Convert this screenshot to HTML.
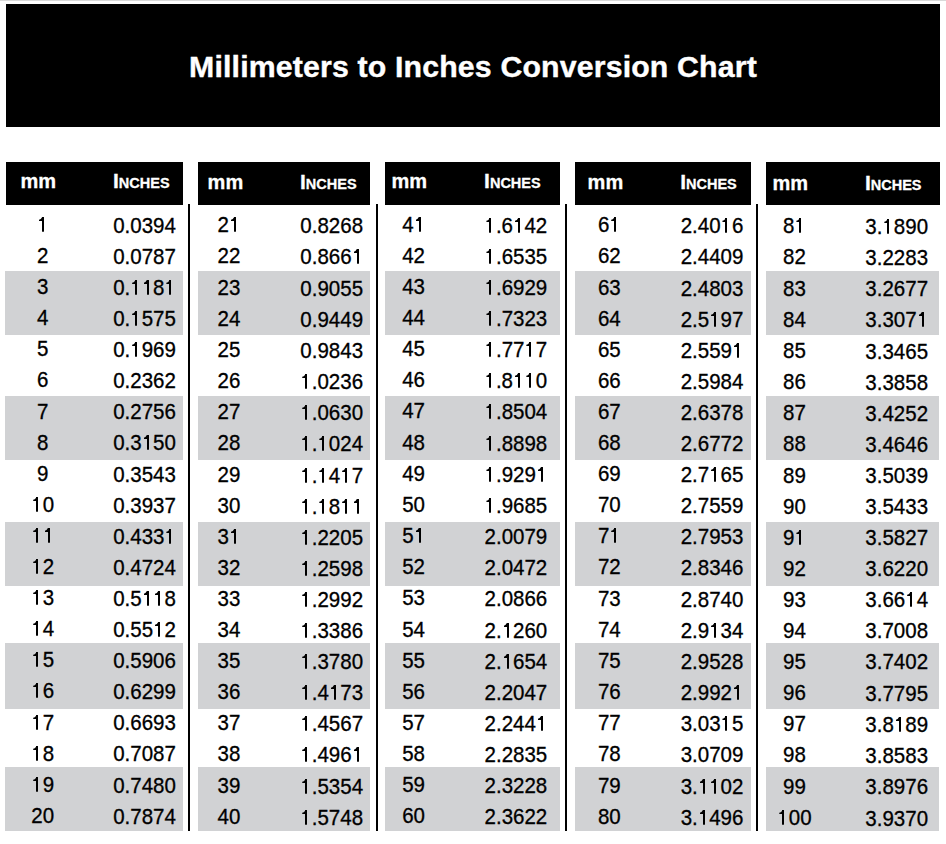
<!DOCTYPE html>
<html><head><meta charset="utf-8"><title>Millimeters to Inches Conversion Chart</title><style>
html,body{margin:0;padding:0;background:#fff;}
body{width:946px;height:844px;position:relative;overflow:hidden;font-family:"Liberation Sans",sans-serif;}
.r{position:absolute;}
.t{position:absolute;text-align:center;white-space:nowrap;font-weight:normal;}
.b{font-weight:bold;}
.o{position:relative;color:transparent;-webkit-text-stroke-color:transparent;}
.o::before{content:'';position:absolute;left:0.24em;width:0.098em;bottom:4px;height:0.70em;background:#000;}
.o::after{content:'';position:absolute;left:0.093em;width:0.19em;bottom:calc(4px + 0.50em);height:0.20em;background:#000;clip-path:polygon(0 74%,0 100%,100% 100%,100% 0,88% 0,72% 28%,48% 52%,22% 66%);}
</style></head><body>
<div style="position:absolute;left:0;top:0;width:946px;height:1px;background:#d9d9d9"></div>
<div style="position:absolute;left:6px;top:4px;width:934px;height:123px;background:#000"></div>
<div class="t b" style="left:23.00px;top:51.99px;width:900px;font-size:30.25px;line-height:30.25px;color:#fff;letter-spacing:0.17px;-webkit-text-stroke:0.4px #fff">Millimeters to Inches Conversion Chart</div>
<div class="r" style="left:5px;top:271px;width:178px;height:64px;background:#d1d2d4"></div>
<div class="r" style="left:5px;top:396px;width:178px;height:63.5px;background:#d1d2d4"></div>
<div class="r" style="left:5px;top:522px;width:178px;height:63.5px;background:#d1d2d4"></div>
<div class="r" style="left:5px;top:643px;width:178px;height:65.5px;background:#d1d2d4"></div>
<div class="r" style="left:5px;top:767px;width:178px;height:64px;background:#d1d2d4"></div>
<div class="r" style="left:6px;top:162px;width:177px;height:43px;background:#000"></div>
<div class="r" style="left:198px;top:271px;width:172px;height:64px;background:#d1d2d4"></div>
<div class="r" style="left:198px;top:396px;width:172px;height:63.5px;background:#d1d2d4"></div>
<div class="r" style="left:198px;top:522px;width:172px;height:63.5px;background:#d1d2d4"></div>
<div class="r" style="left:198px;top:643px;width:172px;height:65.5px;background:#d1d2d4"></div>
<div class="r" style="left:198px;top:767px;width:172px;height:64px;background:#d1d2d4"></div>
<div class="r" style="left:198px;top:162px;width:172px;height:43px;background:#000"></div>
<div class="r" style="left:385px;top:271px;width:175px;height:64px;background:#d1d2d4"></div>
<div class="r" style="left:385px;top:396px;width:175px;height:63.5px;background:#d1d2d4"></div>
<div class="r" style="left:385px;top:522px;width:175px;height:63.5px;background:#d1d2d4"></div>
<div class="r" style="left:385px;top:643px;width:175px;height:65.5px;background:#d1d2d4"></div>
<div class="r" style="left:385px;top:767px;width:175px;height:64px;background:#d1d2d4"></div>
<div class="r" style="left:385px;top:162px;width:175px;height:43px;background:#000"></div>
<div class="r" style="left:575px;top:271px;width:176px;height:64px;background:#d1d2d4"></div>
<div class="r" style="left:575px;top:396px;width:176px;height:63.5px;background:#d1d2d4"></div>
<div class="r" style="left:575px;top:522px;width:176px;height:63.5px;background:#d1d2d4"></div>
<div class="r" style="left:575px;top:643px;width:176px;height:65.5px;background:#d1d2d4"></div>
<div class="r" style="left:575px;top:767px;width:176px;height:64px;background:#d1d2d4"></div>
<div class="r" style="left:575px;top:162px;width:176px;height:43px;background:#000"></div>
<div class="r" style="left:766px;top:271px;width:173px;height:64px;background:#d1d2d4"></div>
<div class="r" style="left:766px;top:396px;width:173px;height:63.5px;background:#d1d2d4"></div>
<div class="r" style="left:766px;top:522px;width:173px;height:63.5px;background:#d1d2d4"></div>
<div class="r" style="left:766px;top:643px;width:173px;height:65.5px;background:#d1d2d4"></div>
<div class="r" style="left:766px;top:767px;width:173px;height:64px;background:#d1d2d4"></div>
<div class="r" style="left:766px;top:162px;width:174px;height:43px;background:#000"></div>
<div class="r" style="left:188px;top:204px;width:2px;height:627px;background:#000"></div>
<div class="r" style="left:376px;top:204px;width:2px;height:627px;background:#000"></div>
<div class="r" style="left:565px;top:204px;width:2px;height:627px;background:#000"></div>
<div class="r" style="left:756px;top:204px;width:2px;height:627px;background:#000"></div>
<div class="t b" style="left:-21.80px;top:170.77px;width:120px;font-size:20px;line-height:20px;color:#fff;-webkit-text-stroke:0.3px #fff">mm</div>
<div class="t b" style="left:81.30px;top:170.77px;width:120px;font-size:20px;line-height:20px;color:#fff;-webkit-text-stroke:0.3px #fff"><span style="font-size:21px">I</span><span style="font-size:14.5px">NCHES</span></div>
<div class="t" style="left:-17.30px;top:214.15px;width:120px;font-size:20.5px;line-height:20.5px;color:#000;transform:scaleY(1.05);transform-origin:50% 2.68px;-webkit-text-stroke:0.3px #000"><span class="o">1</span></div>
<div class="t" style="left:84.50px;top:214.75px;width:120px;font-size:20.5px;line-height:20.5px;color:#000;transform:scaleY(1.05);transform-origin:50% 2.68px;-webkit-text-stroke:0.3px #000">0.0394</div>
<div class="t" style="left:-17.30px;top:245.13px;width:120px;font-size:20.5px;line-height:20.5px;color:#000;transform:scaleY(1.05);transform-origin:50% 2.68px;-webkit-text-stroke:0.3px #000">2</div>
<div class="t" style="left:84.50px;top:245.73px;width:120px;font-size:20.5px;line-height:20.5px;color:#000;transform:scaleY(1.05);transform-origin:50% 2.68px;-webkit-text-stroke:0.3px #000">0.0787</div>
<div class="t" style="left:-17.30px;top:276.12px;width:120px;font-size:20.5px;line-height:20.5px;color:#000;transform:scaleY(1.05);transform-origin:50% 2.68px;-webkit-text-stroke:0.3px #000">3</div>
<div class="t" style="left:84.50px;top:276.72px;width:120px;font-size:20.5px;line-height:20.5px;color:#000;transform:scaleY(1.05);transform-origin:50% 2.68px;-webkit-text-stroke:0.3px #000">0.<span class="o">1</span><span class="o">1</span>8<span class="o">1</span></div>
<div class="t" style="left:-17.30px;top:307.11px;width:120px;font-size:20.5px;line-height:20.5px;color:#000;transform:scaleY(1.05);transform-origin:50% 2.68px;-webkit-text-stroke:0.3px #000">4</div>
<div class="t" style="left:84.50px;top:307.71px;width:120px;font-size:20.5px;line-height:20.5px;color:#000;transform:scaleY(1.05);transform-origin:50% 2.68px;-webkit-text-stroke:0.3px #000">0.<span class="o">1</span>575</div>
<div class="t" style="left:-17.30px;top:338.10px;width:120px;font-size:20.5px;line-height:20.5px;color:#000;transform:scaleY(1.05);transform-origin:50% 2.68px;-webkit-text-stroke:0.3px #000">5</div>
<div class="t" style="left:84.50px;top:338.70px;width:120px;font-size:20.5px;line-height:20.5px;color:#000;transform:scaleY(1.05);transform-origin:50% 2.68px;-webkit-text-stroke:0.3px #000">0.<span class="o">1</span>969</div>
<div class="t" style="left:-17.30px;top:369.31px;width:120px;font-size:20.5px;line-height:20.5px;color:#000;transform:scaleY(1.05);transform-origin:50% 2.68px;-webkit-text-stroke:0.3px #000">6</div>
<div class="t" style="left:84.50px;top:369.91px;width:120px;font-size:20.5px;line-height:20.5px;color:#000;transform:scaleY(1.05);transform-origin:50% 2.68px;-webkit-text-stroke:0.3px #000">0.2362</div>
<div class="t" style="left:-17.30px;top:400.52px;width:120px;font-size:20.5px;line-height:20.5px;color:#000;transform:scaleY(1.05);transform-origin:50% 2.68px;-webkit-text-stroke:0.3px #000">7</div>
<div class="t" style="left:84.50px;top:401.12px;width:120px;font-size:20.5px;line-height:20.5px;color:#000;transform:scaleY(1.05);transform-origin:50% 2.68px;-webkit-text-stroke:0.3px #000">0.2756</div>
<div class="t" style="left:-17.30px;top:431.73px;width:120px;font-size:20.5px;line-height:20.5px;color:#000;transform:scaleY(1.05);transform-origin:50% 2.68px;-webkit-text-stroke:0.3px #000">8</div>
<div class="t" style="left:84.50px;top:432.33px;width:120px;font-size:20.5px;line-height:20.5px;color:#000;transform:scaleY(1.05);transform-origin:50% 2.68px;-webkit-text-stroke:0.3px #000">0.3<span class="o">1</span>50</div>
<div class="t" style="left:-17.30px;top:462.94px;width:120px;font-size:20.5px;line-height:20.5px;color:#000;transform:scaleY(1.05);transform-origin:50% 2.68px;-webkit-text-stroke:0.3px #000">9</div>
<div class="t" style="left:84.50px;top:463.54px;width:120px;font-size:20.5px;line-height:20.5px;color:#000;transform:scaleY(1.05);transform-origin:50% 2.68px;-webkit-text-stroke:0.3px #000">0.3543</div>
<div class="t" style="left:-17.30px;top:494.15px;width:120px;font-size:20.5px;line-height:20.5px;color:#000;transform:scaleY(1.05);transform-origin:50% 2.68px;-webkit-text-stroke:0.3px #000"><span class="o">1</span>0</div>
<div class="t" style="left:84.50px;top:494.75px;width:120px;font-size:20.5px;line-height:20.5px;color:#000;transform:scaleY(1.05);transform-origin:50% 2.68px;-webkit-text-stroke:0.3px #000">0.3937</div>
<div class="t" style="left:-17.30px;top:525.15px;width:120px;font-size:20.5px;line-height:20.5px;color:#000;transform:scaleY(1.05);transform-origin:50% 2.68px;-webkit-text-stroke:0.3px #000"><span class="o">1</span><span class="o">1</span></div>
<div class="t" style="left:84.50px;top:525.75px;width:120px;font-size:20.5px;line-height:20.5px;color:#000;transform:scaleY(1.05);transform-origin:50% 2.68px;-webkit-text-stroke:0.3px #000">0.433<span class="o">1</span></div>
<div class="t" style="left:-17.30px;top:556.15px;width:120px;font-size:20.5px;line-height:20.5px;color:#000;transform:scaleY(1.05);transform-origin:50% 2.68px;-webkit-text-stroke:0.3px #000"><span class="o">1</span>2</div>
<div class="t" style="left:84.50px;top:556.75px;width:120px;font-size:20.5px;line-height:20.5px;color:#000;transform:scaleY(1.05);transform-origin:50% 2.68px;-webkit-text-stroke:0.3px #000">0.4724</div>
<div class="t" style="left:-17.30px;top:587.15px;width:120px;font-size:20.5px;line-height:20.5px;color:#000;transform:scaleY(1.05);transform-origin:50% 2.68px;-webkit-text-stroke:0.3px #000"><span class="o">1</span>3</div>
<div class="t" style="left:84.50px;top:587.75px;width:120px;font-size:20.5px;line-height:20.5px;color:#000;transform:scaleY(1.05);transform-origin:50% 2.68px;-webkit-text-stroke:0.3px #000">0.5<span class="o">1</span><span class="o">1</span>8</div>
<div class="t" style="left:-17.30px;top:618.15px;width:120px;font-size:20.5px;line-height:20.5px;color:#000;transform:scaleY(1.05);transform-origin:50% 2.68px;-webkit-text-stroke:0.3px #000"><span class="o">1</span>4</div>
<div class="t" style="left:84.50px;top:618.75px;width:120px;font-size:20.5px;line-height:20.5px;color:#000;transform:scaleY(1.05);transform-origin:50% 2.68px;-webkit-text-stroke:0.3px #000">0.55<span class="o">1</span>2</div>
<div class="t" style="left:-17.30px;top:649.15px;width:120px;font-size:20.5px;line-height:20.5px;color:#000;transform:scaleY(1.05);transform-origin:50% 2.68px;-webkit-text-stroke:0.3px #000"><span class="o">1</span>5</div>
<div class="t" style="left:84.50px;top:649.75px;width:120px;font-size:20.5px;line-height:20.5px;color:#000;transform:scaleY(1.05);transform-origin:50% 2.68px;-webkit-text-stroke:0.3px #000">0.5906</div>
<div class="t" style="left:-17.30px;top:680.36px;width:120px;font-size:20.5px;line-height:20.5px;color:#000;transform:scaleY(1.05);transform-origin:50% 2.68px;-webkit-text-stroke:0.3px #000"><span class="o">1</span>6</div>
<div class="t" style="left:84.50px;top:680.96px;width:120px;font-size:20.5px;line-height:20.5px;color:#000;transform:scaleY(1.05);transform-origin:50% 2.68px;-webkit-text-stroke:0.3px #000">0.6299</div>
<div class="t" style="left:-17.30px;top:711.57px;width:120px;font-size:20.5px;line-height:20.5px;color:#000;transform:scaleY(1.05);transform-origin:50% 2.68px;-webkit-text-stroke:0.3px #000"><span class="o">1</span>7</div>
<div class="t" style="left:84.50px;top:712.17px;width:120px;font-size:20.5px;line-height:20.5px;color:#000;transform:scaleY(1.05);transform-origin:50% 2.68px;-webkit-text-stroke:0.3px #000">0.6693</div>
<div class="t" style="left:-17.30px;top:742.78px;width:120px;font-size:20.5px;line-height:20.5px;color:#000;transform:scaleY(1.05);transform-origin:50% 2.68px;-webkit-text-stroke:0.3px #000"><span class="o">1</span>8</div>
<div class="t" style="left:84.50px;top:743.38px;width:120px;font-size:20.5px;line-height:20.5px;color:#000;transform:scaleY(1.05);transform-origin:50% 2.68px;-webkit-text-stroke:0.3px #000">0.7087</div>
<div class="t" style="left:-17.30px;top:773.99px;width:120px;font-size:20.5px;line-height:20.5px;color:#000;transform:scaleY(1.05);transform-origin:50% 2.68px;-webkit-text-stroke:0.3px #000"><span class="o">1</span>9</div>
<div class="t" style="left:84.50px;top:774.59px;width:120px;font-size:20.5px;line-height:20.5px;color:#000;transform:scaleY(1.05);transform-origin:50% 2.68px;-webkit-text-stroke:0.3px #000">0.7480</div>
<div class="t" style="left:-17.30px;top:805.20px;width:120px;font-size:20.5px;line-height:20.5px;color:#000;transform:scaleY(1.05);transform-origin:50% 2.68px;-webkit-text-stroke:0.3px #000">20</div>
<div class="t" style="left:84.50px;top:805.80px;width:120px;font-size:20.5px;line-height:20.5px;color:#000;transform:scaleY(1.05);transform-origin:50% 2.68px;-webkit-text-stroke:0.3px #000">0.7874</div>
<div class="t b" style="left:165.40px;top:171.57px;width:120px;font-size:20px;line-height:20px;color:#fff;-webkit-text-stroke:0.3px #fff">mm</div>
<div class="t b" style="left:268.30px;top:171.57px;width:120px;font-size:20px;line-height:20px;color:#fff;-webkit-text-stroke:0.3px #fff"><span style="font-size:21px">I</span><span style="font-size:14.5px">NCHES</span></div>
<div class="t" style="left:169.00px;top:214.00px;width:120px;font-size:20.5px;line-height:20.5px;color:#000;transform:scaleY(1.05);transform-origin:50% 2.68px;-webkit-text-stroke:0.3px #000">2<span class="o">1</span></div>
<div class="t" style="left:271.70px;top:215.00px;width:120px;font-size:20.5px;line-height:20.5px;color:#000;transform:scaleY(1.05);transform-origin:50% 2.68px;-webkit-text-stroke:0.3px #000">0.8268</div>
<div class="t" style="left:169.00px;top:245.25px;width:120px;font-size:20.5px;line-height:20.5px;color:#000;transform:scaleY(1.05);transform-origin:50% 2.68px;-webkit-text-stroke:0.3px #000">22</div>
<div class="t" style="left:271.70px;top:246.25px;width:120px;font-size:20.5px;line-height:20.5px;color:#000;transform:scaleY(1.05);transform-origin:50% 2.68px;-webkit-text-stroke:0.3px #000">0.866<span class="o">1</span></div>
<div class="t" style="left:169.00px;top:276.50px;width:120px;font-size:20.5px;line-height:20.5px;color:#000;transform:scaleY(1.05);transform-origin:50% 2.68px;-webkit-text-stroke:0.3px #000">23</div>
<div class="t" style="left:271.70px;top:277.50px;width:120px;font-size:20.5px;line-height:20.5px;color:#000;transform:scaleY(1.05);transform-origin:50% 2.68px;-webkit-text-stroke:0.3px #000">0.9055</div>
<div class="t" style="left:169.00px;top:307.75px;width:120px;font-size:20.5px;line-height:20.5px;color:#000;transform:scaleY(1.05);transform-origin:50% 2.68px;-webkit-text-stroke:0.3px #000">24</div>
<div class="t" style="left:271.70px;top:308.75px;width:120px;font-size:20.5px;line-height:20.5px;color:#000;transform:scaleY(1.05);transform-origin:50% 2.68px;-webkit-text-stroke:0.3px #000">0.9449</div>
<div class="t" style="left:169.00px;top:339.00px;width:120px;font-size:20.5px;line-height:20.5px;color:#000;transform:scaleY(1.05);transform-origin:50% 2.68px;-webkit-text-stroke:0.3px #000">25</div>
<div class="t" style="left:271.70px;top:340.00px;width:120px;font-size:20.5px;line-height:20.5px;color:#000;transform:scaleY(1.05);transform-origin:50% 2.68px;-webkit-text-stroke:0.3px #000">0.9843</div>
<div class="t" style="left:169.00px;top:370.16px;width:120px;font-size:20.5px;line-height:20.5px;color:#000;transform:scaleY(1.05);transform-origin:50% 2.68px;-webkit-text-stroke:0.3px #000">26</div>
<div class="t" style="left:271.70px;top:371.16px;width:120px;font-size:20.5px;line-height:20.5px;color:#000;transform:scaleY(1.05);transform-origin:50% 2.68px;-webkit-text-stroke:0.3px #000"><span class="o">1</span>.0236</div>
<div class="t" style="left:169.00px;top:401.32px;width:120px;font-size:20.5px;line-height:20.5px;color:#000;transform:scaleY(1.05);transform-origin:50% 2.68px;-webkit-text-stroke:0.3px #000">27</div>
<div class="t" style="left:271.70px;top:402.32px;width:120px;font-size:20.5px;line-height:20.5px;color:#000;transform:scaleY(1.05);transform-origin:50% 2.68px;-webkit-text-stroke:0.3px #000"><span class="o">1</span>.0630</div>
<div class="t" style="left:169.00px;top:432.48px;width:120px;font-size:20.5px;line-height:20.5px;color:#000;transform:scaleY(1.05);transform-origin:50% 2.68px;-webkit-text-stroke:0.3px #000">28</div>
<div class="t" style="left:271.70px;top:433.48px;width:120px;font-size:20.5px;line-height:20.5px;color:#000;transform:scaleY(1.05);transform-origin:50% 2.68px;-webkit-text-stroke:0.3px #000"><span class="o">1</span>.<span class="o">1</span>024</div>
<div class="t" style="left:169.00px;top:463.64px;width:120px;font-size:20.5px;line-height:20.5px;color:#000;transform:scaleY(1.05);transform-origin:50% 2.68px;-webkit-text-stroke:0.3px #000">29</div>
<div class="t" style="left:271.70px;top:464.64px;width:120px;font-size:20.5px;line-height:20.5px;color:#000;transform:scaleY(1.05);transform-origin:50% 2.68px;-webkit-text-stroke:0.3px #000"><span class="o">1</span>.<span class="o">1</span>4<span class="o">1</span>7</div>
<div class="t" style="left:169.00px;top:494.80px;width:120px;font-size:20.5px;line-height:20.5px;color:#000;transform:scaleY(1.05);transform-origin:50% 2.68px;-webkit-text-stroke:0.3px #000">30</div>
<div class="t" style="left:271.70px;top:495.80px;width:120px;font-size:20.5px;line-height:20.5px;color:#000;transform:scaleY(1.05);transform-origin:50% 2.68px;-webkit-text-stroke:0.3px #000"><span class="o">1</span>.<span class="o">1</span>8<span class="o">1</span><span class="o">1</span></div>
<div class="t" style="left:169.00px;top:525.80px;width:120px;font-size:20.5px;line-height:20.5px;color:#000;transform:scaleY(1.05);transform-origin:50% 2.68px;-webkit-text-stroke:0.3px #000">3<span class="o">1</span></div>
<div class="t" style="left:271.70px;top:526.80px;width:120px;font-size:20.5px;line-height:20.5px;color:#000;transform:scaleY(1.05);transform-origin:50% 2.68px;-webkit-text-stroke:0.3px #000"><span class="o">1</span>.2205</div>
<div class="t" style="left:169.00px;top:556.80px;width:120px;font-size:20.5px;line-height:20.5px;color:#000;transform:scaleY(1.05);transform-origin:50% 2.68px;-webkit-text-stroke:0.3px #000">32</div>
<div class="t" style="left:271.70px;top:557.80px;width:120px;font-size:20.5px;line-height:20.5px;color:#000;transform:scaleY(1.05);transform-origin:50% 2.68px;-webkit-text-stroke:0.3px #000"><span class="o">1</span>.2598</div>
<div class="t" style="left:169.00px;top:587.80px;width:120px;font-size:20.5px;line-height:20.5px;color:#000;transform:scaleY(1.05);transform-origin:50% 2.68px;-webkit-text-stroke:0.3px #000">33</div>
<div class="t" style="left:271.70px;top:588.80px;width:120px;font-size:20.5px;line-height:20.5px;color:#000;transform:scaleY(1.05);transform-origin:50% 2.68px;-webkit-text-stroke:0.3px #000"><span class="o">1</span>.2992</div>
<div class="t" style="left:169.00px;top:618.80px;width:120px;font-size:20.5px;line-height:20.5px;color:#000;transform:scaleY(1.05);transform-origin:50% 2.68px;-webkit-text-stroke:0.3px #000">34</div>
<div class="t" style="left:271.70px;top:619.80px;width:120px;font-size:20.5px;line-height:20.5px;color:#000;transform:scaleY(1.05);transform-origin:50% 2.68px;-webkit-text-stroke:0.3px #000"><span class="o">1</span>.3386</div>
<div class="t" style="left:169.00px;top:649.80px;width:120px;font-size:20.5px;line-height:20.5px;color:#000;transform:scaleY(1.05);transform-origin:50% 2.68px;-webkit-text-stroke:0.3px #000">35</div>
<div class="t" style="left:271.70px;top:650.80px;width:120px;font-size:20.5px;line-height:20.5px;color:#000;transform:scaleY(1.05);transform-origin:50% 2.68px;-webkit-text-stroke:0.3px #000"><span class="o">1</span>.3780</div>
<div class="t" style="left:169.00px;top:681.02px;width:120px;font-size:20.5px;line-height:20.5px;color:#000;transform:scaleY(1.05);transform-origin:50% 2.68px;-webkit-text-stroke:0.3px #000">36</div>
<div class="t" style="left:271.70px;top:682.02px;width:120px;font-size:20.5px;line-height:20.5px;color:#000;transform:scaleY(1.05);transform-origin:50% 2.68px;-webkit-text-stroke:0.3px #000"><span class="o">1</span>.4<span class="o">1</span>73</div>
<div class="t" style="left:169.00px;top:712.24px;width:120px;font-size:20.5px;line-height:20.5px;color:#000;transform:scaleY(1.05);transform-origin:50% 2.68px;-webkit-text-stroke:0.3px #000">37</div>
<div class="t" style="left:271.70px;top:713.24px;width:120px;font-size:20.5px;line-height:20.5px;color:#000;transform:scaleY(1.05);transform-origin:50% 2.68px;-webkit-text-stroke:0.3px #000"><span class="o">1</span>.4567</div>
<div class="t" style="left:169.00px;top:743.46px;width:120px;font-size:20.5px;line-height:20.5px;color:#000;transform:scaleY(1.05);transform-origin:50% 2.68px;-webkit-text-stroke:0.3px #000">38</div>
<div class="t" style="left:271.70px;top:744.46px;width:120px;font-size:20.5px;line-height:20.5px;color:#000;transform:scaleY(1.05);transform-origin:50% 2.68px;-webkit-text-stroke:0.3px #000"><span class="o">1</span>.496<span class="o">1</span></div>
<div class="t" style="left:169.00px;top:774.68px;width:120px;font-size:20.5px;line-height:20.5px;color:#000;transform:scaleY(1.05);transform-origin:50% 2.68px;-webkit-text-stroke:0.3px #000">39</div>
<div class="t" style="left:271.70px;top:775.68px;width:120px;font-size:20.5px;line-height:20.5px;color:#000;transform:scaleY(1.05);transform-origin:50% 2.68px;-webkit-text-stroke:0.3px #000"><span class="o">1</span>.5354</div>
<div class="t" style="left:169.00px;top:805.90px;width:120px;font-size:20.5px;line-height:20.5px;color:#000;transform:scaleY(1.05);transform-origin:50% 2.68px;-webkit-text-stroke:0.3px #000">40</div>
<div class="t" style="left:271.70px;top:806.90px;width:120px;font-size:20.5px;line-height:20.5px;color:#000;transform:scaleY(1.05);transform-origin:50% 2.68px;-webkit-text-stroke:0.3px #000"><span class="o">1</span>.5748</div>
<div class="t b" style="left:349.30px;top:170.57px;width:120px;font-size:20px;line-height:20px;color:#fff;-webkit-text-stroke:0.3px #fff">mm</div>
<div class="t b" style="left:452.40px;top:170.57px;width:120px;font-size:20px;line-height:20px;color:#fff;-webkit-text-stroke:0.3px #fff"><span style="font-size:21px">I</span><span style="font-size:14.5px">NCHES</span></div>
<div class="t" style="left:353.60px;top:214.20px;width:120px;font-size:20.5px;line-height:20.5px;color:#000;transform:scaleY(1.05);transform-origin:50% 2.68px;-webkit-text-stroke:0.3px #000">4<span class="o">1</span></div>
<div class="t" style="left:455.90px;top:215.20px;width:120px;font-size:20.5px;line-height:20.5px;color:#000;transform:scaleY(1.05);transform-origin:50% 2.68px;-webkit-text-stroke:0.3px #000"><span class="o">1</span>.6<span class="o">1</span>42</div>
<div class="t" style="left:353.60px;top:245.15px;width:120px;font-size:20.5px;line-height:20.5px;color:#000;transform:scaleY(1.05);transform-origin:50% 2.68px;-webkit-text-stroke:0.3px #000">42</div>
<div class="t" style="left:455.90px;top:246.15px;width:120px;font-size:20.5px;line-height:20.5px;color:#000;transform:scaleY(1.05);transform-origin:50% 2.68px;-webkit-text-stroke:0.3px #000"><span class="o">1</span>.6535</div>
<div class="t" style="left:353.60px;top:276.10px;width:120px;font-size:20.5px;line-height:20.5px;color:#000;transform:scaleY(1.05);transform-origin:50% 2.68px;-webkit-text-stroke:0.3px #000">43</div>
<div class="t" style="left:455.90px;top:277.10px;width:120px;font-size:20.5px;line-height:20.5px;color:#000;transform:scaleY(1.05);transform-origin:50% 2.68px;-webkit-text-stroke:0.3px #000"><span class="o">1</span>.6929</div>
<div class="t" style="left:353.60px;top:307.05px;width:120px;font-size:20.5px;line-height:20.5px;color:#000;transform:scaleY(1.05);transform-origin:50% 2.68px;-webkit-text-stroke:0.3px #000">44</div>
<div class="t" style="left:455.90px;top:308.05px;width:120px;font-size:20.5px;line-height:20.5px;color:#000;transform:scaleY(1.05);transform-origin:50% 2.68px;-webkit-text-stroke:0.3px #000"><span class="o">1</span>.7323</div>
<div class="t" style="left:353.60px;top:338.00px;width:120px;font-size:20.5px;line-height:20.5px;color:#000;transform:scaleY(1.05);transform-origin:50% 2.68px;-webkit-text-stroke:0.3px #000">45</div>
<div class="t" style="left:455.90px;top:339.00px;width:120px;font-size:20.5px;line-height:20.5px;color:#000;transform:scaleY(1.05);transform-origin:50% 2.68px;-webkit-text-stroke:0.3px #000"><span class="o">1</span>.77<span class="o">1</span>7</div>
<div class="t" style="left:353.60px;top:369.20px;width:120px;font-size:20.5px;line-height:20.5px;color:#000;transform:scaleY(1.05);transform-origin:50% 2.68px;-webkit-text-stroke:0.3px #000">46</div>
<div class="t" style="left:455.90px;top:370.20px;width:120px;font-size:20.5px;line-height:20.5px;color:#000;transform:scaleY(1.05);transform-origin:50% 2.68px;-webkit-text-stroke:0.3px #000"><span class="o">1</span>.8<span class="o">1</span><span class="o">1</span>0</div>
<div class="t" style="left:353.60px;top:400.40px;width:120px;font-size:20.5px;line-height:20.5px;color:#000;transform:scaleY(1.05);transform-origin:50% 2.68px;-webkit-text-stroke:0.3px #000">47</div>
<div class="t" style="left:455.90px;top:401.40px;width:120px;font-size:20.5px;line-height:20.5px;color:#000;transform:scaleY(1.05);transform-origin:50% 2.68px;-webkit-text-stroke:0.3px #000"><span class="o">1</span>.8504</div>
<div class="t" style="left:353.60px;top:431.60px;width:120px;font-size:20.5px;line-height:20.5px;color:#000;transform:scaleY(1.05);transform-origin:50% 2.68px;-webkit-text-stroke:0.3px #000">48</div>
<div class="t" style="left:455.90px;top:432.60px;width:120px;font-size:20.5px;line-height:20.5px;color:#000;transform:scaleY(1.05);transform-origin:50% 2.68px;-webkit-text-stroke:0.3px #000"><span class="o">1</span>.8898</div>
<div class="t" style="left:353.60px;top:462.80px;width:120px;font-size:20.5px;line-height:20.5px;color:#000;transform:scaleY(1.05);transform-origin:50% 2.68px;-webkit-text-stroke:0.3px #000">49</div>
<div class="t" style="left:455.90px;top:463.80px;width:120px;font-size:20.5px;line-height:20.5px;color:#000;transform:scaleY(1.05);transform-origin:50% 2.68px;-webkit-text-stroke:0.3px #000"><span class="o">1</span>.929<span class="o">1</span></div>
<div class="t" style="left:353.60px;top:494.00px;width:120px;font-size:20.5px;line-height:20.5px;color:#000;transform:scaleY(1.05);transform-origin:50% 2.68px;-webkit-text-stroke:0.3px #000">50</div>
<div class="t" style="left:455.90px;top:495.00px;width:120px;font-size:20.5px;line-height:20.5px;color:#000;transform:scaleY(1.05);transform-origin:50% 2.68px;-webkit-text-stroke:0.3px #000"><span class="o">1</span>.9685</div>
<div class="t" style="left:353.60px;top:525.16px;width:120px;font-size:20.5px;line-height:20.5px;color:#000;transform:scaleY(1.05);transform-origin:50% 2.68px;-webkit-text-stroke:0.3px #000">5<span class="o">1</span></div>
<div class="t" style="left:455.90px;top:526.16px;width:120px;font-size:20.5px;line-height:20.5px;color:#000;transform:scaleY(1.05);transform-origin:50% 2.68px;-webkit-text-stroke:0.3px #000">2.0079</div>
<div class="t" style="left:353.60px;top:556.32px;width:120px;font-size:20.5px;line-height:20.5px;color:#000;transform:scaleY(1.05);transform-origin:50% 2.68px;-webkit-text-stroke:0.3px #000">52</div>
<div class="t" style="left:455.90px;top:557.32px;width:120px;font-size:20.5px;line-height:20.5px;color:#000;transform:scaleY(1.05);transform-origin:50% 2.68px;-webkit-text-stroke:0.3px #000">2.0472</div>
<div class="t" style="left:353.60px;top:587.48px;width:120px;font-size:20.5px;line-height:20.5px;color:#000;transform:scaleY(1.05);transform-origin:50% 2.68px;-webkit-text-stroke:0.3px #000">53</div>
<div class="t" style="left:455.90px;top:588.48px;width:120px;font-size:20.5px;line-height:20.5px;color:#000;transform:scaleY(1.05);transform-origin:50% 2.68px;-webkit-text-stroke:0.3px #000">2.0866</div>
<div class="t" style="left:353.60px;top:618.64px;width:120px;font-size:20.5px;line-height:20.5px;color:#000;transform:scaleY(1.05);transform-origin:50% 2.68px;-webkit-text-stroke:0.3px #000">54</div>
<div class="t" style="left:455.90px;top:619.64px;width:120px;font-size:20.5px;line-height:20.5px;color:#000;transform:scaleY(1.05);transform-origin:50% 2.68px;-webkit-text-stroke:0.3px #000">2.<span class="o">1</span>260</div>
<div class="t" style="left:353.60px;top:649.80px;width:120px;font-size:20.5px;line-height:20.5px;color:#000;transform:scaleY(1.05);transform-origin:50% 2.68px;-webkit-text-stroke:0.3px #000">55</div>
<div class="t" style="left:455.90px;top:650.80px;width:120px;font-size:20.5px;line-height:20.5px;color:#000;transform:scaleY(1.05);transform-origin:50% 2.68px;-webkit-text-stroke:0.3px #000">2.<span class="o">1</span>654</div>
<div class="t" style="left:353.60px;top:680.84px;width:120px;font-size:20.5px;line-height:20.5px;color:#000;transform:scaleY(1.05);transform-origin:50% 2.68px;-webkit-text-stroke:0.3px #000">56</div>
<div class="t" style="left:455.90px;top:681.84px;width:120px;font-size:20.5px;line-height:20.5px;color:#000;transform:scaleY(1.05);transform-origin:50% 2.68px;-webkit-text-stroke:0.3px #000">2.2047</div>
<div class="t" style="left:353.60px;top:711.88px;width:120px;font-size:20.5px;line-height:20.5px;color:#000;transform:scaleY(1.05);transform-origin:50% 2.68px;-webkit-text-stroke:0.3px #000">57</div>
<div class="t" style="left:455.90px;top:712.88px;width:120px;font-size:20.5px;line-height:20.5px;color:#000;transform:scaleY(1.05);transform-origin:50% 2.68px;-webkit-text-stroke:0.3px #000">2.244<span class="o">1</span></div>
<div class="t" style="left:353.60px;top:742.92px;width:120px;font-size:20.5px;line-height:20.5px;color:#000;transform:scaleY(1.05);transform-origin:50% 2.68px;-webkit-text-stroke:0.3px #000">58</div>
<div class="t" style="left:455.90px;top:743.92px;width:120px;font-size:20.5px;line-height:20.5px;color:#000;transform:scaleY(1.05);transform-origin:50% 2.68px;-webkit-text-stroke:0.3px #000">2.2835</div>
<div class="t" style="left:353.60px;top:773.96px;width:120px;font-size:20.5px;line-height:20.5px;color:#000;transform:scaleY(1.05);transform-origin:50% 2.68px;-webkit-text-stroke:0.3px #000">59</div>
<div class="t" style="left:455.90px;top:774.96px;width:120px;font-size:20.5px;line-height:20.5px;color:#000;transform:scaleY(1.05);transform-origin:50% 2.68px;-webkit-text-stroke:0.3px #000">2.3228</div>
<div class="t" style="left:353.60px;top:805.00px;width:120px;font-size:20.5px;line-height:20.5px;color:#000;transform:scaleY(1.05);transform-origin:50% 2.68px;-webkit-text-stroke:0.3px #000">60</div>
<div class="t" style="left:455.90px;top:806.00px;width:120px;font-size:20.5px;line-height:20.5px;color:#000;transform:scaleY(1.05);transform-origin:50% 2.68px;-webkit-text-stroke:0.3px #000">2.3622</div>
<div class="t b" style="left:545.40px;top:171.57px;width:120px;font-size:20px;line-height:20px;color:#fff;-webkit-text-stroke:0.3px #fff">mm</div>
<div class="t b" style="left:648.50px;top:171.57px;width:120px;font-size:20px;line-height:20px;color:#fff;-webkit-text-stroke:0.3px #fff"><span style="font-size:21px">I</span><span style="font-size:14.5px">NCHES</span></div>
<div class="t" style="left:549.30px;top:214.00px;width:120px;font-size:20.5px;line-height:20.5px;color:#000;transform:scaleY(1.05);transform-origin:50% 2.68px;-webkit-text-stroke:0.3px #000">6<span class="o">1</span></div>
<div class="t" style="left:652.00px;top:215.00px;width:120px;font-size:20.5px;line-height:20.5px;color:#000;transform:scaleY(1.05);transform-origin:50% 2.68px;-webkit-text-stroke:0.3px #000">2.40<span class="o">1</span>6</div>
<div class="t" style="left:549.30px;top:245.25px;width:120px;font-size:20.5px;line-height:20.5px;color:#000;transform:scaleY(1.05);transform-origin:50% 2.68px;-webkit-text-stroke:0.3px #000">62</div>
<div class="t" style="left:652.00px;top:246.25px;width:120px;font-size:20.5px;line-height:20.5px;color:#000;transform:scaleY(1.05);transform-origin:50% 2.68px;-webkit-text-stroke:0.3px #000">2.4409</div>
<div class="t" style="left:549.30px;top:276.50px;width:120px;font-size:20.5px;line-height:20.5px;color:#000;transform:scaleY(1.05);transform-origin:50% 2.68px;-webkit-text-stroke:0.3px #000">63</div>
<div class="t" style="left:652.00px;top:277.50px;width:120px;font-size:20.5px;line-height:20.5px;color:#000;transform:scaleY(1.05);transform-origin:50% 2.68px;-webkit-text-stroke:0.3px #000">2.4803</div>
<div class="t" style="left:549.30px;top:307.75px;width:120px;font-size:20.5px;line-height:20.5px;color:#000;transform:scaleY(1.05);transform-origin:50% 2.68px;-webkit-text-stroke:0.3px #000">64</div>
<div class="t" style="left:652.00px;top:308.75px;width:120px;font-size:20.5px;line-height:20.5px;color:#000;transform:scaleY(1.05);transform-origin:50% 2.68px;-webkit-text-stroke:0.3px #000">2.5<span class="o">1</span>97</div>
<div class="t" style="left:549.30px;top:339.00px;width:120px;font-size:20.5px;line-height:20.5px;color:#000;transform:scaleY(1.05);transform-origin:50% 2.68px;-webkit-text-stroke:0.3px #000">65</div>
<div class="t" style="left:652.00px;top:340.00px;width:120px;font-size:20.5px;line-height:20.5px;color:#000;transform:scaleY(1.05);transform-origin:50% 2.68px;-webkit-text-stroke:0.3px #000">2.559<span class="o">1</span></div>
<div class="t" style="left:549.30px;top:370.00px;width:120px;font-size:20.5px;line-height:20.5px;color:#000;transform:scaleY(1.05);transform-origin:50% 2.68px;-webkit-text-stroke:0.3px #000">66</div>
<div class="t" style="left:652.00px;top:371.00px;width:120px;font-size:20.5px;line-height:20.5px;color:#000;transform:scaleY(1.05);transform-origin:50% 2.68px;-webkit-text-stroke:0.3px #000">2.5984</div>
<div class="t" style="left:549.30px;top:401.00px;width:120px;font-size:20.5px;line-height:20.5px;color:#000;transform:scaleY(1.05);transform-origin:50% 2.68px;-webkit-text-stroke:0.3px #000">67</div>
<div class="t" style="left:652.00px;top:402.00px;width:120px;font-size:20.5px;line-height:20.5px;color:#000;transform:scaleY(1.05);transform-origin:50% 2.68px;-webkit-text-stroke:0.3px #000">2.6378</div>
<div class="t" style="left:549.30px;top:432.00px;width:120px;font-size:20.5px;line-height:20.5px;color:#000;transform:scaleY(1.05);transform-origin:50% 2.68px;-webkit-text-stroke:0.3px #000">68</div>
<div class="t" style="left:652.00px;top:433.00px;width:120px;font-size:20.5px;line-height:20.5px;color:#000;transform:scaleY(1.05);transform-origin:50% 2.68px;-webkit-text-stroke:0.3px #000">2.6772</div>
<div class="t" style="left:549.30px;top:463.00px;width:120px;font-size:20.5px;line-height:20.5px;color:#000;transform:scaleY(1.05);transform-origin:50% 2.68px;-webkit-text-stroke:0.3px #000">69</div>
<div class="t" style="left:652.00px;top:464.00px;width:120px;font-size:20.5px;line-height:20.5px;color:#000;transform:scaleY(1.05);transform-origin:50% 2.68px;-webkit-text-stroke:0.3px #000">2.7<span class="o">1</span>65</div>
<div class="t" style="left:549.30px;top:494.00px;width:120px;font-size:20.5px;line-height:20.5px;color:#000;transform:scaleY(1.05);transform-origin:50% 2.68px;-webkit-text-stroke:0.3px #000">70</div>
<div class="t" style="left:652.00px;top:495.00px;width:120px;font-size:20.5px;line-height:20.5px;color:#000;transform:scaleY(1.05);transform-origin:50% 2.68px;-webkit-text-stroke:0.3px #000">2.7559</div>
<div class="t" style="left:549.30px;top:525.20px;width:120px;font-size:20.5px;line-height:20.5px;color:#000;transform:scaleY(1.05);transform-origin:50% 2.68px;-webkit-text-stroke:0.3px #000">7<span class="o">1</span></div>
<div class="t" style="left:652.00px;top:526.20px;width:120px;font-size:20.5px;line-height:20.5px;color:#000;transform:scaleY(1.05);transform-origin:50% 2.68px;-webkit-text-stroke:0.3px #000">2.7953</div>
<div class="t" style="left:549.30px;top:556.40px;width:120px;font-size:20.5px;line-height:20.5px;color:#000;transform:scaleY(1.05);transform-origin:50% 2.68px;-webkit-text-stroke:0.3px #000">72</div>
<div class="t" style="left:652.00px;top:557.40px;width:120px;font-size:20.5px;line-height:20.5px;color:#000;transform:scaleY(1.05);transform-origin:50% 2.68px;-webkit-text-stroke:0.3px #000">2.8346</div>
<div class="t" style="left:549.30px;top:587.60px;width:120px;font-size:20.5px;line-height:20.5px;color:#000;transform:scaleY(1.05);transform-origin:50% 2.68px;-webkit-text-stroke:0.3px #000">73</div>
<div class="t" style="left:652.00px;top:588.60px;width:120px;font-size:20.5px;line-height:20.5px;color:#000;transform:scaleY(1.05);transform-origin:50% 2.68px;-webkit-text-stroke:0.3px #000">2.8740</div>
<div class="t" style="left:549.30px;top:618.80px;width:120px;font-size:20.5px;line-height:20.5px;color:#000;transform:scaleY(1.05);transform-origin:50% 2.68px;-webkit-text-stroke:0.3px #000">74</div>
<div class="t" style="left:652.00px;top:619.80px;width:120px;font-size:20.5px;line-height:20.5px;color:#000;transform:scaleY(1.05);transform-origin:50% 2.68px;-webkit-text-stroke:0.3px #000">2.9<span class="o">1</span>34</div>
<div class="t" style="left:549.30px;top:650.00px;width:120px;font-size:20.5px;line-height:20.5px;color:#000;transform:scaleY(1.05);transform-origin:50% 2.68px;-webkit-text-stroke:0.3px #000">75</div>
<div class="t" style="left:652.00px;top:651.00px;width:120px;font-size:20.5px;line-height:20.5px;color:#000;transform:scaleY(1.05);transform-origin:50% 2.68px;-webkit-text-stroke:0.3px #000">2.9528</div>
<div class="t" style="left:549.30px;top:681.14px;width:120px;font-size:20.5px;line-height:20.5px;color:#000;transform:scaleY(1.05);transform-origin:50% 2.68px;-webkit-text-stroke:0.3px #000">76</div>
<div class="t" style="left:652.00px;top:682.14px;width:120px;font-size:20.5px;line-height:20.5px;color:#000;transform:scaleY(1.05);transform-origin:50% 2.68px;-webkit-text-stroke:0.3px #000">2.992<span class="o">1</span></div>
<div class="t" style="left:549.30px;top:712.28px;width:120px;font-size:20.5px;line-height:20.5px;color:#000;transform:scaleY(1.05);transform-origin:50% 2.68px;-webkit-text-stroke:0.3px #000">77</div>
<div class="t" style="left:652.00px;top:713.28px;width:120px;font-size:20.5px;line-height:20.5px;color:#000;transform:scaleY(1.05);transform-origin:50% 2.68px;-webkit-text-stroke:0.3px #000">3.03<span class="o">1</span>5</div>
<div class="t" style="left:549.30px;top:743.42px;width:120px;font-size:20.5px;line-height:20.5px;color:#000;transform:scaleY(1.05);transform-origin:50% 2.68px;-webkit-text-stroke:0.3px #000">78</div>
<div class="t" style="left:652.00px;top:744.42px;width:120px;font-size:20.5px;line-height:20.5px;color:#000;transform:scaleY(1.05);transform-origin:50% 2.68px;-webkit-text-stroke:0.3px #000">3.0709</div>
<div class="t" style="left:549.30px;top:774.56px;width:120px;font-size:20.5px;line-height:20.5px;color:#000;transform:scaleY(1.05);transform-origin:50% 2.68px;-webkit-text-stroke:0.3px #000">79</div>
<div class="t" style="left:652.00px;top:775.56px;width:120px;font-size:20.5px;line-height:20.5px;color:#000;transform:scaleY(1.05);transform-origin:50% 2.68px;-webkit-text-stroke:0.3px #000">3.<span class="o">1</span><span class="o">1</span>02</div>
<div class="t" style="left:549.30px;top:805.70px;width:120px;font-size:20.5px;line-height:20.5px;color:#000;transform:scaleY(1.05);transform-origin:50% 2.68px;-webkit-text-stroke:0.3px #000">80</div>
<div class="t" style="left:652.00px;top:806.70px;width:120px;font-size:20.5px;line-height:20.5px;color:#000;transform:scaleY(1.05);transform-origin:50% 2.68px;-webkit-text-stroke:0.3px #000">3.<span class="o">1</span>496</div>
<div class="t b" style="left:730.20px;top:173.07px;width:120px;font-size:20px;line-height:20px;color:#fff;-webkit-text-stroke:0.3px #fff">mm</div>
<div class="t b" style="left:833.20px;top:173.07px;width:120px;font-size:20px;line-height:20px;color:#fff;-webkit-text-stroke:0.3px #fff"><span style="font-size:21px">I</span><span style="font-size:14.5px">NCHES</span></div>
<div class="t" style="left:734.50px;top:215.00px;width:120px;font-size:20.5px;line-height:20.5px;color:#000;transform:scaleY(1.05);transform-origin:50% 2.68px;-webkit-text-stroke:0.3px #000">8<span class="o">1</span></div>
<div class="t" style="left:836.70px;top:215.70px;width:120px;font-size:20.5px;line-height:20.5px;color:#000;transform:scaleY(1.05);transform-origin:50% 2.68px;-webkit-text-stroke:0.3px #000">3.<span class="o">1</span>890</div>
<div class="t" style="left:734.50px;top:246.25px;width:120px;font-size:20.5px;line-height:20.5px;color:#000;transform:scaleY(1.05);transform-origin:50% 2.68px;-webkit-text-stroke:0.3px #000">82</div>
<div class="t" style="left:836.70px;top:246.95px;width:120px;font-size:20.5px;line-height:20.5px;color:#000;transform:scaleY(1.05);transform-origin:50% 2.68px;-webkit-text-stroke:0.3px #000">3.2283</div>
<div class="t" style="left:734.50px;top:277.50px;width:120px;font-size:20.5px;line-height:20.5px;color:#000;transform:scaleY(1.05);transform-origin:50% 2.68px;-webkit-text-stroke:0.3px #000">83</div>
<div class="t" style="left:836.70px;top:278.20px;width:120px;font-size:20.5px;line-height:20.5px;color:#000;transform:scaleY(1.05);transform-origin:50% 2.68px;-webkit-text-stroke:0.3px #000">3.2677</div>
<div class="t" style="left:734.50px;top:308.75px;width:120px;font-size:20.5px;line-height:20.5px;color:#000;transform:scaleY(1.05);transform-origin:50% 2.68px;-webkit-text-stroke:0.3px #000">84</div>
<div class="t" style="left:836.70px;top:309.45px;width:120px;font-size:20.5px;line-height:20.5px;color:#000;transform:scaleY(1.05);transform-origin:50% 2.68px;-webkit-text-stroke:0.3px #000">3.307<span class="o">1</span></div>
<div class="t" style="left:734.50px;top:340.00px;width:120px;font-size:20.5px;line-height:20.5px;color:#000;transform:scaleY(1.05);transform-origin:50% 2.68px;-webkit-text-stroke:0.3px #000">85</div>
<div class="t" style="left:836.70px;top:340.70px;width:120px;font-size:20.5px;line-height:20.5px;color:#000;transform:scaleY(1.05);transform-origin:50% 2.68px;-webkit-text-stroke:0.3px #000">3.3465</div>
<div class="t" style="left:734.50px;top:371.14px;width:120px;font-size:20.5px;line-height:20.5px;color:#000;transform:scaleY(1.05);transform-origin:50% 2.68px;-webkit-text-stroke:0.3px #000">86</div>
<div class="t" style="left:836.70px;top:371.84px;width:120px;font-size:20.5px;line-height:20.5px;color:#000;transform:scaleY(1.05);transform-origin:50% 2.68px;-webkit-text-stroke:0.3px #000">3.3858</div>
<div class="t" style="left:734.50px;top:402.28px;width:120px;font-size:20.5px;line-height:20.5px;color:#000;transform:scaleY(1.05);transform-origin:50% 2.68px;-webkit-text-stroke:0.3px #000">87</div>
<div class="t" style="left:836.70px;top:402.98px;width:120px;font-size:20.5px;line-height:20.5px;color:#000;transform:scaleY(1.05);transform-origin:50% 2.68px;-webkit-text-stroke:0.3px #000">3.4252</div>
<div class="t" style="left:734.50px;top:433.42px;width:120px;font-size:20.5px;line-height:20.5px;color:#000;transform:scaleY(1.05);transform-origin:50% 2.68px;-webkit-text-stroke:0.3px #000">88</div>
<div class="t" style="left:836.70px;top:434.12px;width:120px;font-size:20.5px;line-height:20.5px;color:#000;transform:scaleY(1.05);transform-origin:50% 2.68px;-webkit-text-stroke:0.3px #000">3.4646</div>
<div class="t" style="left:734.50px;top:464.56px;width:120px;font-size:20.5px;line-height:20.5px;color:#000;transform:scaleY(1.05);transform-origin:50% 2.68px;-webkit-text-stroke:0.3px #000">89</div>
<div class="t" style="left:836.70px;top:465.26px;width:120px;font-size:20.5px;line-height:20.5px;color:#000;transform:scaleY(1.05);transform-origin:50% 2.68px;-webkit-text-stroke:0.3px #000">3.5039</div>
<div class="t" style="left:734.50px;top:495.70px;width:120px;font-size:20.5px;line-height:20.5px;color:#000;transform:scaleY(1.05);transform-origin:50% 2.68px;-webkit-text-stroke:0.3px #000">90</div>
<div class="t" style="left:836.70px;top:496.40px;width:120px;font-size:20.5px;line-height:20.5px;color:#000;transform:scaleY(1.05);transform-origin:50% 2.68px;-webkit-text-stroke:0.3px #000">3.5433</div>
<div class="t" style="left:734.50px;top:526.70px;width:120px;font-size:20.5px;line-height:20.5px;color:#000;transform:scaleY(1.05);transform-origin:50% 2.68px;-webkit-text-stroke:0.3px #000">9<span class="o">1</span></div>
<div class="t" style="left:836.70px;top:527.40px;width:120px;font-size:20.5px;line-height:20.5px;color:#000;transform:scaleY(1.05);transform-origin:50% 2.68px;-webkit-text-stroke:0.3px #000">3.5827</div>
<div class="t" style="left:734.50px;top:557.70px;width:120px;font-size:20.5px;line-height:20.5px;color:#000;transform:scaleY(1.05);transform-origin:50% 2.68px;-webkit-text-stroke:0.3px #000">92</div>
<div class="t" style="left:836.70px;top:558.40px;width:120px;font-size:20.5px;line-height:20.5px;color:#000;transform:scaleY(1.05);transform-origin:50% 2.68px;-webkit-text-stroke:0.3px #000">3.6220</div>
<div class="t" style="left:734.50px;top:588.70px;width:120px;font-size:20.5px;line-height:20.5px;color:#000;transform:scaleY(1.05);transform-origin:50% 2.68px;-webkit-text-stroke:0.3px #000">93</div>
<div class="t" style="left:836.70px;top:589.40px;width:120px;font-size:20.5px;line-height:20.5px;color:#000;transform:scaleY(1.05);transform-origin:50% 2.68px;-webkit-text-stroke:0.3px #000">3.66<span class="o">1</span>4</div>
<div class="t" style="left:734.50px;top:619.70px;width:120px;font-size:20.5px;line-height:20.5px;color:#000;transform:scaleY(1.05);transform-origin:50% 2.68px;-webkit-text-stroke:0.3px #000">94</div>
<div class="t" style="left:836.70px;top:620.40px;width:120px;font-size:20.5px;line-height:20.5px;color:#000;transform:scaleY(1.05);transform-origin:50% 2.68px;-webkit-text-stroke:0.3px #000">3.7008</div>
<div class="t" style="left:734.50px;top:650.70px;width:120px;font-size:20.5px;line-height:20.5px;color:#000;transform:scaleY(1.05);transform-origin:50% 2.68px;-webkit-text-stroke:0.3px #000">95</div>
<div class="t" style="left:836.70px;top:651.40px;width:120px;font-size:20.5px;line-height:20.5px;color:#000;transform:scaleY(1.05);transform-origin:50% 2.68px;-webkit-text-stroke:0.3px #000">3.7402</div>
<div class="t" style="left:734.50px;top:681.92px;width:120px;font-size:20.5px;line-height:20.5px;color:#000;transform:scaleY(1.05);transform-origin:50% 2.68px;-webkit-text-stroke:0.3px #000">96</div>
<div class="t" style="left:836.70px;top:682.62px;width:120px;font-size:20.5px;line-height:20.5px;color:#000;transform:scaleY(1.05);transform-origin:50% 2.68px;-webkit-text-stroke:0.3px #000">3.7795</div>
<div class="t" style="left:734.50px;top:713.14px;width:120px;font-size:20.5px;line-height:20.5px;color:#000;transform:scaleY(1.05);transform-origin:50% 2.68px;-webkit-text-stroke:0.3px #000">97</div>
<div class="t" style="left:836.70px;top:713.84px;width:120px;font-size:20.5px;line-height:20.5px;color:#000;transform:scaleY(1.05);transform-origin:50% 2.68px;-webkit-text-stroke:0.3px #000">3.8<span class="o">1</span>89</div>
<div class="t" style="left:734.50px;top:744.36px;width:120px;font-size:20.5px;line-height:20.5px;color:#000;transform:scaleY(1.05);transform-origin:50% 2.68px;-webkit-text-stroke:0.3px #000">98</div>
<div class="t" style="left:836.70px;top:745.06px;width:120px;font-size:20.5px;line-height:20.5px;color:#000;transform:scaleY(1.05);transform-origin:50% 2.68px;-webkit-text-stroke:0.3px #000">3.8583</div>
<div class="t" style="left:734.50px;top:775.58px;width:120px;font-size:20.5px;line-height:20.5px;color:#000;transform:scaleY(1.05);transform-origin:50% 2.68px;-webkit-text-stroke:0.3px #000">99</div>
<div class="t" style="left:836.70px;top:776.28px;width:120px;font-size:20.5px;line-height:20.5px;color:#000;transform:scaleY(1.05);transform-origin:50% 2.68px;-webkit-text-stroke:0.3px #000">3.8976</div>
<div class="t" style="left:734.50px;top:806.80px;width:120px;font-size:20.5px;line-height:20.5px;color:#000;transform:scaleY(1.05);transform-origin:50% 2.68px;-webkit-text-stroke:0.3px #000"><span class="o">1</span>00</div>
<div class="t" style="left:836.70px;top:807.50px;width:120px;font-size:20.5px;line-height:20.5px;color:#000;transform:scaleY(1.05);transform-origin:50% 2.68px;-webkit-text-stroke:0.3px #000">3.9370</div>
</body></html>
